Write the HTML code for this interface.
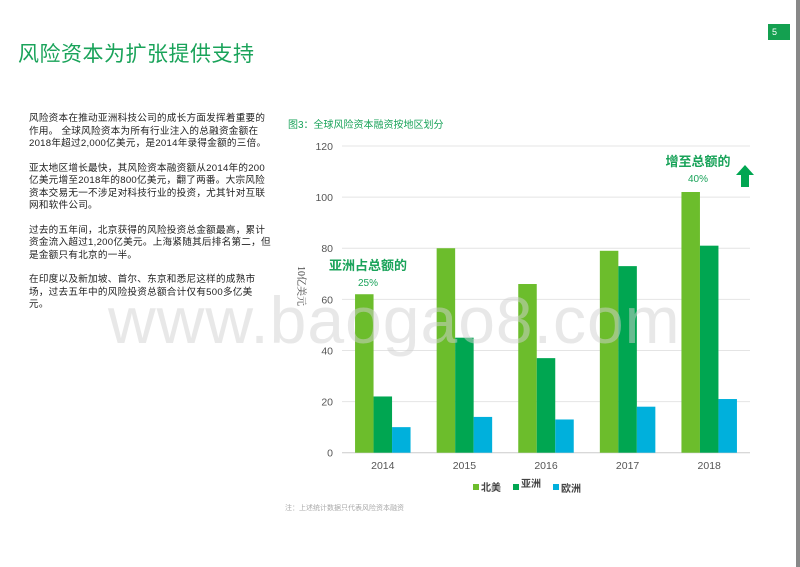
<!DOCTYPE html>
<html><head><meta charset="utf-8">
<style>
body{margin:0;width:800px;height:567px;overflow:hidden;background:#fff;font-family:"Liberation Sans","Noto Sans CJK SC",sans-serif;position:relative}
.t{position:absolute}
#para p{margin:0 0 12px 0;font-size:9.6px;line-height:12.5px;color:#222;width:242px;letter-spacing:0.25px}
</style></head><body>
<div class="t" style="left:18px;top:38px;font-size:21px;color:#1aa35a;letter-spacing:0.5px">风险资本为扩张提供支持</div>
<div class="t" style="left:768px;top:24px;width:22px;height:16px;background:#14a050;color:#fff;font-size:9px;line-height:16px;padding-left:4px;box-sizing:border-box">5</div>
<div class="t" style="left:796px;top:0;width:4px;height:567px;background:#888"></div>
<div id="para" class="t" style="left:29px;top:113px">
<p>风险资本在推动亚洲科技公司的成长方面发挥着重要的作用。 全球风险资本为所有行业注入的总融资金额在2018年超过2,000亿美元，是2014年录得金额的三倍。</p>
<p>亚太地区增长最快，其风险资本融资额从2014年的200亿美元增至2018年的800亿美元，翻了两番。大宗风险资本交易无一不涉足对科技行业的投资，尤其针对互联网和软件公司。</p>
<p>过去的五年间，北京获得的风险投资总金额最高，累计资金流入超过1,200亿美元。上海紧随其后排名第二，但是金额只有北京的一半。</p>
<p>在印度以及新加坡、首尔、东京和悉尼这样的成熟市场，过去五年中的风险投资总额合计仅有500多亿美元。</p>
</div>
<div class="t" style="left:288px;top:116px;font-size:10px;color:#1aa35a">图3：全球风险资本融资按地区划分</div>
<svg class="t" style="left:0;top:0" width="800" height="567" id="chart"></svg>
<div class="t" style="left:285px;top:503px;font-size:7px;color:#aaa">注：上述统计数据只代表风险资本融资</div>
<div class="t" style="left:108px;top:282px;font-size:66px;color:rgba(210,210,210,0.5);letter-spacing:1px">www.baogao8.com</div>
<script>
const categories=["2014","2015","2016","2017","2018"];
const northAmerica=[62,80,66,79,102];
const asia=[22,45,37,73,81];
const europe=[10,14,13,18,21];
const yTicks=[0,20,40,60,80,100,120];
const seriesNames=["北美","亚洲","欧洲"];
const svg=document.getElementById('chart');
const NS="http://www.w3.org/2000/svg";
const x0=342,x1=750,yBase=452.7,yTop=146,yMax=120;
const y=v=>yBase-(v/yMax)*(yBase-yTop);
const band=(x1-x0)/categories.length;
const cx=i=>x0+band*(i+0.5);
function el(t,a){const e=document.createElementNS(NS,t);for(const k in a)e.setAttribute(k,a[k]);svg.appendChild(e);return e;}
yTicks.forEach(v=>{
 const l=el('line',{x1:x0,x2:x1,y1:y(v),y2:y(v),stroke:v===0?'#ccc':'#e4e4e4','stroke-width':1});
 
 
 const t=el('text',{x:333,y:y(v)+4,'text-anchor':'end','font-size':10.5,fill:'#555'});t.textContent=v;
 
 
});
const colors=["#6cbd2c","#00a651","#00b0dc"];
const series=[northAmerica,asia,europe];
const bw=18.5;
categories.forEach((c,i)=>{
 series.forEach((s,k)=>{
  const r=el('rect',{x:cx(i)-bw*1.5+k*bw,y:y(s[i]),width:bw,height:yBase-y(s[i]),fill:colors[k]});
  
  
 });
 const t=el('text',{x:cx(i),y:469,'text-anchor':'middle','font-size':10.5,fill:'#555'});t.textContent=c;
 
 
});
const yt=el('text',{x:0,y:0,transform:'translate(298,286) rotate(90)','text-anchor':'middle','font-size':10,fill:'#444','font-family':'Liberation Serif,Noto Serif CJK SC,serif'});yt.textContent='10亿美元';


const lx=[473,513,553];
const ly=[491,487,492];
seriesNames.forEach((n,k)=>{
 const r=el('rect',{x:lx[k],y:484,width:6,height:6,fill:colors[k]});
 
 
 const t=el('text',{x:lx[k]+8,y:ly[k],'font-size':10,'font-weight':'bold',fill:'#444'});t.textContent=n;
 
 
});
function ann(x,yy,a,b,nm){
 const t=el('text',{x:x,y:yy,'text-anchor':'middle','font-size':13,'font-weight':'bold',fill:'#1aa35a'});t.textContent=a;
 
 
 const p=el('text',{x:x,y:yy+16,'text-anchor':'middle','font-size':10,fill:'#1aa35a'});p.textContent=b;
 
 
}
ann(368,270,'亚洲占总额的','25%','asia-share');
ann(698,166,'增至总额的','40%','asia-growth');
const ar=el('polygon',{points:'745,165 754,175 749,175 749,187 741,187 741,175 736,175',fill:'#00a651'});


</script>
</body></html>
